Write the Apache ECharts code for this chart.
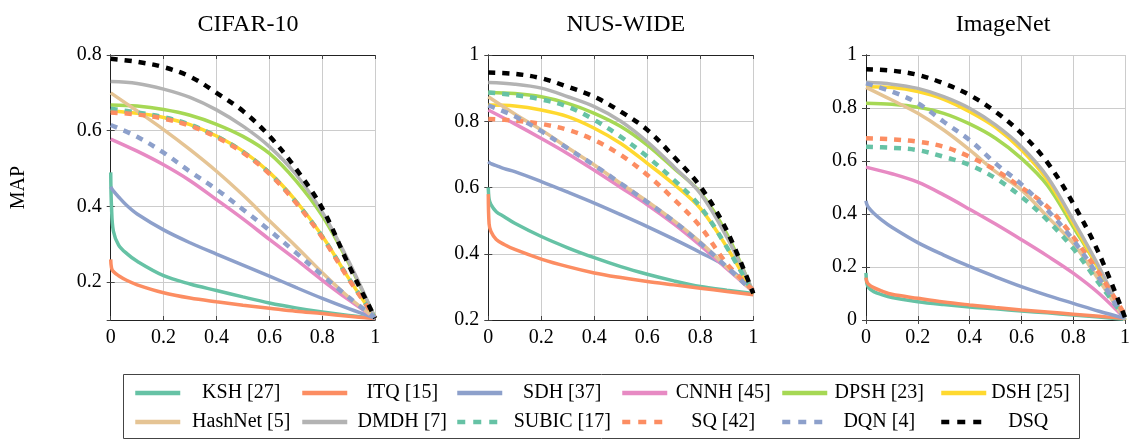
<!DOCTYPE html>
<html><head><meta charset="utf-8">
<script src="https://cdn.jsdelivr.net/npm/echarts@6/dist/echarts.min.js"></script>
<style>html,body{margin:0;padding:0;background:#fff}#c{width:1133px;height:440px}</style>
</head><body><div id="c"></div>
<script>
// ---------- data ----------
const recall = [0, 0.1, 0.2, 0.3, 0.4, 0.5, 0.6, 0.7, 0.8, 0.9, 1];
const recallFine = [0, 0.003, 0.01, 0.03, 0.06, 0.1, 0.2, 0.3, 0.4, 0.5, 0.6, 0.7, 0.8, 0.9, 1];
const xTicks = [0, 0.2, 0.4, 0.6, 0.8, 1];
const datasets = ['CIFAR-10', 'NUS-WIDE', 'ImageNet'];
const yMin = [0.1, 0.2, 0];
const yMax = [0.8, 1, 1];
const methods = ['KSH [27]', 'ITQ [15]', 'SDH [37]', 'CNNH [45]', 'DPSH [23]', 'DSH [25]',
                 'HashNet [5]', 'DMDH [7]', 'SUBIC [17]', 'SQ [42]', 'DQN [4]', 'DSQ'];
const fineMethods = ['KSH [27]', 'ITQ [15]', 'SDH [37]'];

// CIFAR-10 (KSH, ITQ, SDH on recallFine; rest on recall)
const cifarKSH = [0.49, 0.40, 0.335, 0.298, 0.276, 0.255, 0.217, 0.195, 0.178, 0.161, 0.145, 0.132, 0.121, 0.112, 0.105];
const cifarITQ = [0.26, 0.238, 0.228, 0.217, 0.205, 0.193, 0.172, 0.158, 0.148, 0.139, 0.131, 0.123, 0.117, 0.110, 0.104];
const cifarSDH = [0.452, 0.448, 0.441, 0.425, 0.403, 0.38, 0.338, 0.304, 0.274, 0.245, 0.216, 0.186, 0.157, 0.130, 0.105];
const cifarCNNH = [0.578, 0.546, 0.51, 0.468, 0.418, 0.367, 0.313, 0.26, 0.205, 0.153, 0.105];
const cifarDPSH = [0.668, 0.665, 0.656, 0.641, 0.617, 0.585, 0.54, 0.468, 0.375, 0.25, 0.105];
const cifarDSH = [0.652, 0.646, 0.635, 0.616, 0.586, 0.546, 0.49, 0.415, 0.322, 0.21, 0.105];
const cifarHashNet = [0.70, 0.652, 0.603, 0.55, 0.493, 0.43, 0.362, 0.295, 0.225, 0.16, 0.105];
const cifarDMDH = [0.73, 0.725, 0.71, 0.688, 0.655, 0.612, 0.558, 0.485, 0.385, 0.255, 0.105];
const cifarSUBIC = [0.658, 0.648, 0.636, 0.616, 0.585, 0.544, 0.488, 0.412, 0.32, 0.21, 0.105];
const cifarSQ = [0.648, 0.643, 0.632, 0.613, 0.583, 0.542, 0.486, 0.41, 0.318, 0.208, 0.105];
const cifarDQN = [0.615, 0.584, 0.542, 0.492, 0.445, 0.392, 0.337, 0.278, 0.218, 0.16, 0.105];
const cifarDSQ = [0.79, 0.782, 0.768, 0.743, 0.70, 0.652, 0.586, 0.50, 0.395, 0.245, 0.105];

// NUS-WIDE
const nusKSH = [0.60, 0.565, 0.548, 0.527, 0.512, 0.492, 0.452, 0.418, 0.388, 0.361, 0.338, 0.318, 0.301, 0.29, 0.28];
const nusITQ = [0.58, 0.49, 0.467, 0.443, 0.428, 0.413, 0.384, 0.361, 0.342, 0.328, 0.316, 0.306, 0.296, 0.286, 0.276];
const nusSDH = [0.678, 0.676, 0.672, 0.666, 0.657, 0.648, 0.618, 0.586, 0.553, 0.518, 0.482, 0.444, 0.404, 0.36, 0.29];
const nusCNNH = [0.834, 0.792, 0.748, 0.702, 0.652, 0.60, 0.548, 0.49, 0.425, 0.355, 0.285];
const nusDPSH = [0.887, 0.884, 0.874, 0.854, 0.824, 0.784, 0.728, 0.658, 0.585, 0.46, 0.28];
const nusDSH = [0.849, 0.846, 0.834, 0.814, 0.779, 0.733, 0.673, 0.61, 0.537, 0.42, 0.28];
const nusHashNet = [0.874, 0.822, 0.774, 0.72, 0.668, 0.612, 0.558, 0.50, 0.435, 0.36, 0.285];
const nusDMDH = [0.917, 0.912, 0.90, 0.874, 0.844, 0.80, 0.738, 0.663, 0.582, 0.45, 0.285];
const nusSUBIC = [0.887, 0.879, 0.866, 0.844, 0.804, 0.753, 0.693, 0.623, 0.542, 0.42, 0.28];
const nusSQ = [0.807, 0.802, 0.792, 0.774, 0.743, 0.698, 0.638, 0.565, 0.482, 0.37, 0.29];
const nusDQN = [0.848, 0.815, 0.77, 0.718, 0.667, 0.612, 0.556, 0.498, 0.432, 0.36, 0.285];
const nusDSQ = [0.947, 0.943, 0.93, 0.904, 0.874, 0.829, 0.774, 0.693, 0.603, 0.47, 0.28];

// ImageNet
const imgKSH = [0.178, 0.14, 0.122, 0.107, 0.096, 0.085, 0.069, 0.058, 0.049, 0.042, 0.034, 0.027, 0.019, 0.011, 0.003];
const imgITQ = [0.16, 0.145, 0.135, 0.122, 0.11, 0.097, 0.082, 0.068, 0.057, 0.047, 0.038, 0.03, 0.022, 0.014, 0.006];
const imgSDH = [0.45, 0.437, 0.424, 0.403, 0.378, 0.35, 0.292, 0.245, 0.202, 0.163, 0.126, 0.093, 0.063, 0.033, 0.006];
const imgCNNH = [0.577, 0.552, 0.52, 0.472, 0.418, 0.362, 0.303, 0.242, 0.177, 0.1, 0.005];
const imgDPSH = [0.818, 0.814, 0.803, 0.78, 0.74, 0.686, 0.61, 0.509, 0.352, 0.19, 0.0];
const imgDSH = [0.88, 0.877, 0.862, 0.833, 0.786, 0.727, 0.642, 0.528, 0.365, 0.19, 0.0];
const imgHashNet = [0.878, 0.83, 0.78, 0.717, 0.642, 0.56, 0.491, 0.39, 0.289, 0.15, 0.0];
const imgDMDH = [0.897, 0.89, 0.874, 0.843, 0.799, 0.736, 0.654, 0.541, 0.377, 0.2, 0.0];
const imgSUBIC = [0.654, 0.65, 0.641, 0.616, 0.585, 0.535, 0.465, 0.377, 0.27, 0.138, 0.01];
const imgSQ = [0.686, 0.682, 0.673, 0.654, 0.616, 0.566, 0.5, 0.428, 0.314, 0.176, 0.02];
const imgDQN = [0.893, 0.862, 0.818, 0.748, 0.679, 0.591, 0.512, 0.415, 0.302, 0.16, 0.0];
const imgDSQ = [0.946, 0.941, 0.925, 0.893, 0.849, 0.786, 0.704, 0.595, 0.44, 0.25, 0.01];

const values = [
  [cifarKSH, cifarITQ, cifarSDH, cifarCNNH, cifarDPSH, cifarDSH, cifarHashNet, cifarDMDH, cifarSUBIC, cifarSQ, cifarDQN, cifarDSQ],
  [nusKSH, nusITQ, nusSDH, nusCNNH, nusDPSH, nusDSH, nusHashNet, nusDMDH, nusSUBIC, nusSQ, nusDQN, nusDSQ],
  [imgKSH, imgITQ, imgSDH, imgCNNH, imgDPSH, imgDSH, imgHashNet, imgDMDH, imgSUBIC, imgSQ, imgDQN, imgDSQ]
];

// ---------- styles ----------
const colors = ['#66c2a5', '#fc8d62', '#8da0cb', '#e78ac3', '#a6d854', '#ffd92f',
                '#e5c494', '#b3b3b3', '#66c2a5', '#fc8d62', '#8da0cb', '#000000'];
const dashed = [false, false, false, false, false, false, false, false, true, true, true, true];
const FONT = '"Liberation Serif", "Times New Roman", serif';

const gridBoxes = [
  {left: 110.7, top: 55, width: 264.5, height: 265},
  {left: 488.3, top: 55, width: 265, height: 265},
  {left: 866, top: 55, width: 264, height: 265}
];

const chart = echarts.init(document.getElementById('c'), null, {renderer: 'canvas'});

const grids = [], xAxes = [], yAxes = [], series = [], titles = [];
gridBoxes.forEach((g, d) => {
  grids.push(Object.assign({containLabel: false}, g));
  titles.push({
    text: datasets[d], left: g.left + g.width / 2, top: 8, textAlign: 'center',
    textStyle: {fontFamily: FONT, fontSize: 24, fontWeight: 'normal', color: '#000'}
  });
  const tick = {show: true, inside: true, length: 4, lineStyle: {color: '#444', width: 1}};
  const axLine = {show: true, lineStyle: {color: '#222', width: 1}};
  const lbl = {fontFamily: FONT, fontSize: 20, color: '#000'};
  xAxes.push({
    type: 'value', gridIndex: d, min: 0, max: 1, interval: 0.2, position: 'bottom',
    axisLine: axLine, axisTick: tick,
    axisLabel: Object.assign({margin: 8}, lbl),
    splitLine: {show: true, lineStyle: {color: '#cccccc', width: 1}}
  });
  xAxes.push({
    type: 'value', gridIndex: d, min: 0, max: 1, interval: 0.2, position: 'top',
    axisLine: axLine, axisTick: tick, axisLabel: {show: false}, splitLine: {show: false}
  });
  const yScale = d === 0
    ? {min: yMin[d], max: yMax[d], minInterval: 0.2, maxInterval: 0.2, splitNumber: 4}
    : {min: yMin[d], max: yMax[d], interval: 0.2};
  yAxes.push(Object.assign({
    type: 'value', gridIndex: d, position: 'left',
    axisLine: axLine, axisTick: tick,
    axisLabel: Object.assign({margin: 9, showMinLabel: d !== 0}, lbl),
    splitLine: {show: true, lineStyle: {color: '#cccccc', width: 1}},
    name: d === 0 ? 'MAP' : '', nameLocation: 'middle', nameGap: 82,
    nameTextStyle: {fontFamily: FONT, fontSize: 20, color: '#000'}
  }, yScale));
  yAxes.push(Object.assign({
    type: 'value', gridIndex: d, position: 'right',
    axisLine: axLine, axisTick: tick, axisLabel: {show: false}, splitLine: {show: false}
  }, yScale));

  methods.forEach((m, k) => {
    const xs = fineMethods.includes(m) ? recallFine : recall;
    const ys = values[d][k];
    series.push({
      name: m, type: 'line', xAxisIndex: 2 * d, yAxisIndex: 2 * d,
      data: xs.map((x, i) => [x, ys[i]]),
      symbol: 'none', smooth: 0.35, silent: true,
      z: 2 + k,
      lineStyle: {color: colors[k], width: dashed[k] ? 4.5 : 3.5, type: dashed[k] ? [7, 7] : 'solid', cap: 'butt'},
      itemStyle: {color: colors[k]}
    });
  });
});

// ---------- legend (one per item, 6 columns x 2 rows) ----------
const legendRows = [393, 422];
const sampleX = [133, 300, 455, 620, 780, 939];
const textCenter = [239, 400, 560, 721, 877, 1026];
const ctx = document.createElement('canvas').getContext('2d');
ctx.font = '20px ' + FONT;
const legends = methods.map((m, k) => {
  const col = k % 6, row = Math.floor(k / 6);
  const w = dashed[k] ? 40 : 45;
  const tw = ctx.measureText(m).width;
  const pad = Math.max(0, textCenter[col] - tw / 2 - (sampleX[col] + w + 5));
  return {
    data: [m], left: sampleX[col], top: legendRows[row] - 10, padding: 0,
    itemWidth: w, itemHeight: 20, selectedMode: false,
    itemStyle: {color: 'rgba(0,0,0,0)', opacity: 0, borderWidth: 0},
    lineStyle: {width: 4.5, type: dashed[k] ? [8, 8] : 'solid', cap: 'butt'},
    textStyle: {fontFamily: FONT, fontSize: 20, color: '#000', padding: [0, 0, 0, pad]}
  };
});

chart.setOption({
  animation: false,
  backgroundColor: '#fff',
  title: titles,
  grid: grids,
  xAxis: xAxes,
  yAxis: yAxes,
  legend: legends,
  series: series,
  graphic: [{
    type: 'rect', shape: {x: 123.5, y: 374.5, width: 956, height: 64},
    style: {fill: 'none', stroke: '#444', lineWidth: 1}, silent: true, z: -1
  }]
});
</script></body></html>
